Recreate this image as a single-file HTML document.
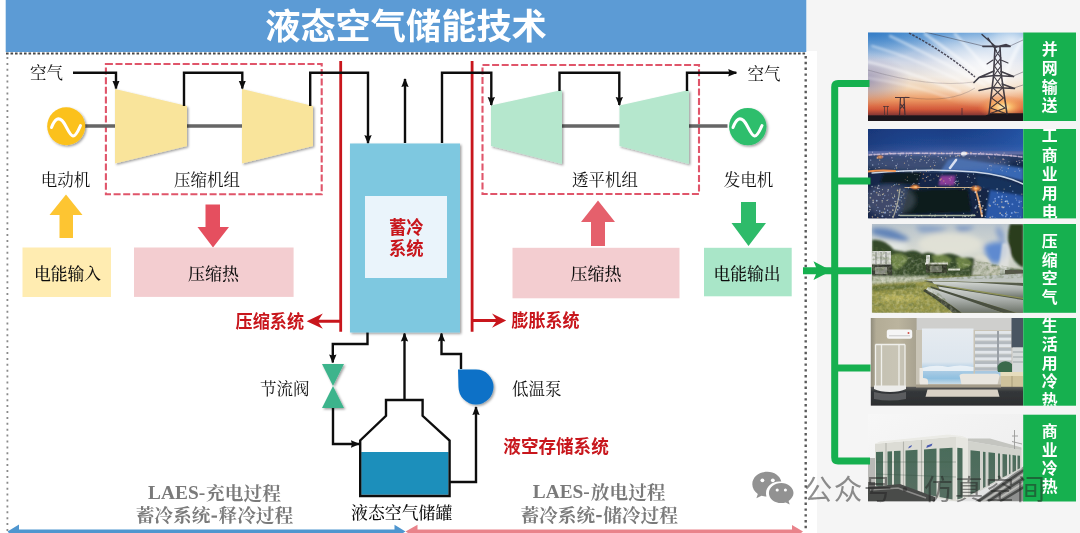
<!DOCTYPE html>
<html lang="zh">
<head>
<meta charset="utf-8">
<title>液态空气储能技术</title>
<style>
html,body{margin:0;padding:0;background:#fff;}
body{width:1080px;height:533px;overflow:hidden;position:relative;font-family:"Liberation Sans",sans-serif;}
#stage{position:absolute;left:0;top:0;width:1080px;height:533px;overflow:hidden;}
svg{position:absolute;left:0;top:0;display:block;}
.l{position:absolute;white-space:nowrap;color:transparent;line-height:1.2;font-family:"Liberation Sans",sans-serif;margin:0;padding:0;pointer-events:none;}
.l.s{font-family:"Liberation Serif",serif;}
</style>
</head>
<body>
<div id="stage">
<svg width="1080" height="533" viewBox="0 0 1080 533">
<defs>

<filter id="sh" x="-10%" y="-10%" width="125%" height="125%"><feDropShadow dx="1.4" dy="1.4" stdDeviation="1.2" flood-color="#000" flood-opacity="0.38"/></filter>
<filter id="b1"><feGaussianBlur stdDeviation="0.45"/></filter>
<filter id="b2"><feGaussianBlur stdDeviation="0.6"/></filter>
<marker id="ak" viewBox="0 0 10 10" refX="9" refY="5" markerWidth="9" markerHeight="9.4" markerUnits="userSpaceOnUse" orient="auto"><path d="M0 0.9 L10 5 L0 9.1 L1.2 5 Z" fill="#111"/></marker>


<filter id="pb1" x="-5%" y="-5%" width="110%" height="110%"><feGaussianBlur stdDeviation="1.2"/></filter>
<filter id="pb2" x="-5%" y="-5%" width="110%" height="110%"><feGaussianBlur stdDeviation="2.5"/></filter>
<filter id="pb3" x="-10%" y="-10%" width="120%" height="120%"><feGaussianBlur stdDeviation="5"/></filter>
<filter id="pb05" x="-5%" y="-5%" width="110%" height="110%"><feGaussianBlur stdDeviation="0.55"/></filter>
<filter id="nz" x="0" y="0" width="100%" height="100%"><feTurbulence type="fractalNoise" baseFrequency="0.28" numOctaves="2" seed="4" result="t"/><feColorMatrix in="t" type="matrix" values="0 0 0 0 0.1  0 0 0 0 0.15  0 0 0 0 0.05  1.2 1.2 1.2 0 -1.55"/><feComposite in2="SourceAlpha" operator="in"/></filter>
<filter id="nzw" x="0" y="0" width="100%" height="100%"><feTurbulence type="fractalNoise" baseFrequency="0.3" numOctaves="2" seed="9" result="t"/><feColorMatrix in="t" type="matrix" values="0 0 0 0 1  0 0 0 0 1  0 0 0 0 0.8  1.2 1.2 1.2 0 -1.6"/><feComposite in2="SourceAlpha" operator="in"/></filter>
<clipPath id="p1"><rect x="868" y="32.5" width="155.4" height="88.4"/></clipPath>
<clipPath id="p2"><rect x="868" y="129" width="155.2" height="89.4"/></clipPath>
<clipPath id="p3"><rect x="871.8" y="224" width="151.4" height="88.8"/></clipPath>
<clipPath id="p4"><rect x="870.6" y="318" width="152.6" height="87.7"/></clipPath>
<clipPath id="p5"><rect x="868" y="414" width="156" height="87.5"/></clipPath>
<linearGradient id="sky1" x1="0" y1="0" x2="0" y2="1">
<stop offset="0" stop-color="#5a98d4"/><stop offset="0.17" stop-color="#9cbce0"/><stop offset="0.34" stop-color="#d2d8e6"/>
<stop offset="0.5" stop-color="#ece4dc"/><stop offset="0.64" stop-color="#f2d2b0"/><stop offset="0.76" stop-color="#ec9862"/><stop offset="0.87" stop-color="#d2583a"/>
<stop offset="0.93" stop-color="#8c3a34"/><stop offset="0.955" stop-color="#241c22"/><stop offset="1" stop-color="#1c181c"/></linearGradient>
<radialGradient id="glow1" cx="0.5" cy="0.5" r="0.5"><stop offset="0" stop-color="#fff" stop-opacity="0.95"/><stop offset="0.5" stop-color="#fff" stop-opacity="0.55"/><stop offset="1" stop-color="#fff" stop-opacity="0"/></radialGradient>
<radialGradient id="sun1" cx="0.5" cy="0.5" r="0.5"><stop offset="0" stop-color="#fff6c0" stop-opacity="1"/><stop offset="0.35" stop-color="#ffc870" stop-opacity="0.8"/><stop offset="1" stop-color="#f08040" stop-opacity="0"/></radialGradient>
<radialGradient id="blue1" cx="0.5" cy="0.5" r="0.5"><stop offset="0" stop-color="#2f78c4" stop-opacity="0.95"/><stop offset="1" stop-color="#3c84c8" stop-opacity="0"/></radialGradient>
<radialGradient id="mauve1" cx="0.5" cy="0.5" r="0.5"><stop offset="0" stop-color="#8c88ac" stop-opacity="0.85"/><stop offset="1" stop-color="#9a90b0" stop-opacity="0"/></radialGradient>


<linearGradient id="sky2" x1="0" y1="0" x2="0" y2="1">
<stop offset="0" stop-color="#1b3d84"/><stop offset="0.16" stop-color="#21478f"/><stop offset="0.235" stop-color="#3a579c"/><stop offset="0.272" stop-color="#6470a8"/>
<stop offset="0.31" stop-color="#2a3c66"/><stop offset="0.4" stop-color="#15294c"/><stop offset="1" stop-color="#12233f"/></linearGradient>
<linearGradient id="sky2h" x1="0" y1="0" x2="1" y2="0"><stop offset="0" stop-color="#16306c" stop-opacity="0.5"/><stop offset="0.5" stop-color="#2050a0" stop-opacity="0"/><stop offset="1" stop-color="#2c64bc" stop-opacity="0.55"/></linearGradient>
<radialGradient id="og" cx="0.5" cy="0.5" r="0.5"><stop offset="0" stop-color="#ffd080" stop-opacity="1"/><stop offset="0.4" stop-color="#ff9040" stop-opacity="0.8"/><stop offset="1" stop-color="#ff8030" stop-opacity="0"/></radialGradient>


<linearGradient id="sky3" x1="0" y1="0" x2="0" y2="1">
<stop offset="0" stop-color="#b9c4cc"/><stop offset="0.3" stop-color="#d6d9d2"/><stop offset="0.55" stop-color="#c8ccc0"/><stop offset="1" stop-color="#9a9c70"/></linearGradient>
<linearGradient id="pipe3" x1="0" y1="0" x2="0" y2="1">
<stop offset="0" stop-color="#d4d8d4"/><stop offset="0.5" stop-color="#a9aeaa"/><stop offset="1" stop-color="#6c7268"/></linearGradient>


<linearGradient id="wall4" x1="0" y1="0" x2="1" y2="0"><stop offset="0" stop-color="#8e8a7a"/><stop offset="0.12" stop-color="#b3ac96"/><stop offset="0.6" stop-color="#bbb49e"/><stop offset="1" stop-color="#a8a290"/></linearGradient>
<linearGradient id="win4" x1="0" y1="0" x2="0" y2="1"><stop offset="0" stop-color="#e6ebf0"/><stop offset="0.6" stop-color="#dde6ee"/><stop offset="0.72" stop-color="#b4d0e6"/><stop offset="0.9" stop-color="#8fc0e0"/><stop offset="1" stop-color="#c8dce8"/></linearGradient>
<linearGradient id="floor4" x1="0" y1="0" x2="0" y2="1"><stop offset="0" stop-color="#5a5a58"/><stop offset="0.25" stop-color="#34373a"/><stop offset="1" stop-color="#2c2e30"/></linearGradient>
<pattern id="blind4" x="0" y="331" width="8" height="6.6" patternUnits="userSpaceOnUse"><rect width="8" height="3.3" fill="#e2e6ea"/><rect y="3.3" width="8" height="3.3" fill="#b4babf"/></pattern>


<linearGradient id="sky5" x1="0" y1="0" x2="1" y2="1"><stop offset="0" stop-color="#f7f7f7"/><stop offset="0.6" stop-color="#f0f0f0"/><stop offset="1" stop-color="#d9dada"/></linearGradient>
<linearGradient id="gr5" x1="0" y1="0" x2="0" y2="1"><stop offset="0" stop-color="#4a6c5a"/><stop offset="1" stop-color="#566e62"/></linearGradient>

<clipPath id="c2"><rect x="1023" y="129" width="53" height="89.4"/></clipPath><clipPath id="c4"><rect x="1023" y="318" width="53" height="87.7"/></clipPath>
<filter id="soft" filterUnits="userSpaceOnUse" x="-20" y="-20" width="1120" height="573"><feGaussianBlur stdDeviation="0.55"/></filter>
</defs>
<g filter="url(#soft)">
<rect x="-20" y="-20" width="1120" height="573" fill="#fff"/>
<rect x="806.5" y="-20" width="294" height="71" fill="#f5f5f5"/>
<rect x="817" y="-20" width="283" height="573" fill="#f5f5f5"/>
<rect x="5.7" y="-20" width="800.6" height="72" fill="#5b9bd5"/>
<path d="M6 53.6 H806.5" stroke="#4a4a4a" stroke-width="2" stroke-dasharray="2.6 1.9" fill="none"/>
<path d="M7.4 57 V531" stroke="#8a8a8a" stroke-width="1.8" stroke-dasharray="2 3.9" fill="none"/>
<path d="M805.7 56 V531" stroke="#5a5a5a" stroke-width="2.4" stroke-dasharray="2.4 3.4" fill="none"/>
<text x="265.2" y="38.98" font-family="'Liberation Sans','Noto Sans CJK SC',sans-serif" font-weight="bold" font-size="35.2" fill="#fff" textLength="281.6" lengthAdjust="spacingAndGlyphs">液态空气储能技术</text>
<rect x="105.9" y="64" width="215.8" height="130.3" fill="none" stroke="#e0546a" stroke-width="2.1" stroke-dasharray="7 2.6"/>
<rect x="482.5" y="65" width="216.5" height="129" fill="none" stroke="#e0546a" stroke-width="2.1" stroke-dasharray="7 2.6"/>
<path d="M340.7 61 V331.7 M472.1 61 V331.7" stroke="#c8161d" stroke-width="2.8" fill="none"/>
<path d="M340.5 321.2 H316 M472 320.6 H498" stroke="#c8161d" stroke-width="3" fill="none"/>
<path d="M306.7 321.2 L322.8 313.6 L317.8 321.2 L322.8 328.8 Z M506.2 320.6 L492 313.6 L497 320.6 L492 327.8 Z" fill="#c8161d"/>
<path d="M84 126 H116 M186 126 H243 M561 126 H620 M688 126 H727.5" stroke="#666" stroke-width="3.4" fill="none"/>
<g filter="url(#sh)">
<path d="M115 89 L187 106 L187 146 L115 163.5 Z" fill="#f9e49b"/>
<path d="M242 89 L313 106 L313 146 L242 163.5 Z" fill="#f9e49b"/>
<path d="M491 105.5 L562 90 L562 164 L491 146 Z" fill="#b5e7cd"/>
<path d="M619.5 105.5 L689 90 L689 164 L619.5 146 Z" fill="#b5e7cd"/>
</g>
<circle cx="66.2" cy="126.3" r="19" fill="#fbc11d" filter="url(#sh)"/>
<path d="M51.5 127.5 C55 118 58.5 117.5 62 120.5 C66 124 69 135.5 73 136 C76 136.3 78.5 130 80.5 125.5" stroke="#fff" stroke-width="3" fill="none" stroke-linecap="round" stroke-linejoin="round"/>
<circle cx="747.8" cy="126.6" r="18.7" fill="#2dbe6c" filter="url(#sh)"/>
<path d="M733 127.5 C736.5 118 740 117.5 743.5 120.5 C747.5 124 750.5 135.5 754.5 136 C757.5 136.3 760 130 762 125.5" stroke="#fff" stroke-width="3" fill="none" stroke-linecap="round" stroke-linejoin="round"/>
<path d="M73 72.8 H116 V88.6" stroke="#111" stroke-width="2.4" fill="none" stroke-linejoin="miter" marker-end="url(#ak)"/>
<path d="M184 106 V72.8 H242.3 V88.6" stroke="#111" stroke-width="2.4" fill="none" stroke-linejoin="miter" marker-end="url(#ak)"/>
<path d="M310.2 106 V72.8 H368 V143.2" stroke="#111" stroke-width="2.4" fill="none" stroke-linejoin="miter" marker-end="url(#ak)"/>
<path d="M405 143 V79" stroke="#111" stroke-width="2.4" fill="none" stroke-linejoin="miter" marker-end="url(#ak)"/>
<path d="M442 143 V72.8 H491.3 V105" stroke="#111" stroke-width="2.4" fill="none" stroke-linejoin="miter" marker-end="url(#ak)"/>
<path d="M559.5 91 V72.8 H619.3 V105" stroke="#111" stroke-width="2.4" fill="none" stroke-linejoin="miter" marker-end="url(#ak)"/>
<path d="M687 91 V72.8 H736.3" stroke="#111" stroke-width="2.4" fill="none" stroke-linejoin="miter" marker-end="url(#ak)"/>
<path d="M367.5 332 V344 H332.8 V362.5" stroke="#111" stroke-width="2.4" fill="none" stroke-linejoin="miter" marker-end="url(#ak)"/>
<path d="M404.5 400 V333.5" stroke="#111" stroke-width="2.4" fill="none" stroke-linejoin="miter" marker-end="url(#ak)"/>
<path d="M461 369 V354 H441.5 V333.5" stroke="#111" stroke-width="2.4" fill="none" stroke-linejoin="miter" marker-end="url(#ak)"/>
<path d="M333 408 V444 H359" stroke="#111" stroke-width="2.4" fill="none" stroke-linejoin="miter" marker-end="url(#ak)"/>
<path d="M450 482 H476 V407" stroke="#111" stroke-width="2.4" fill="none" stroke-linejoin="miter" marker-end="url(#ak)"/>
<rect x="350" y="143.5" width="110" height="189" fill="#7ec8e0" filter="url(#sh)"/>
<rect x="365" y="196" width="82" height="82" fill="#eaf4fb"/>
<text x="389.02" y="234.24" font-family="'Liberation Sans','Noto Sans CJK SC',sans-serif" font-weight="bold" font-size="18" fill="#c8161d" textLength="34.6" lengthAdjust="spacingAndGlyphs">蓄冷</text>
<text x="389.02" y="254.84" font-family="'Liberation Sans','Noto Sans CJK SC',sans-serif" font-weight="bold" font-size="18" fill="#c8161d" textLength="34.6" lengthAdjust="spacingAndGlyphs">系统</text>
<path d="M66 194.5 L82.5 215 L73 215 L73 238 L59.5 238 L59.5 215 L49.5 215 Z" fill="#fdc532"/>
<path d="M205.5 204.5 H220 V227 H229 L213 247.5 L197.5 227 H205.5 Z" fill="#e5505f"/>
<path d="M598 200.5 L615 222 L605 222 L605 246 L591 246 L591 222 L581 222 Z" fill="#e5606c"/>
<path d="M741 202 H756 V223 H766 L748.5 246 L731.5 223 H741 Z" fill="#2fbb6b"/>
<rect x="22.5" y="247.5" width="88.5" height="49.5" fill="#ffecb1"/>
<rect x="134" y="247.5" width="159.6" height="49.4" fill="#f3cdd0"/>
<rect x="512.5" y="247.8" width="167" height="50.5" fill="#f3cdd0"/>
<rect x="704" y="247.8" width="87.7" height="48.5" fill="#a9e6c8"/>
<path d="M322 364 H344 L333 386 L344 408 H322 L333 386 Z" fill="#3cb48c" filter="url(#sh)"/>
<path d="M458 369.5 H476 A17.5 17.5 0 1 1 458.5 387 Z" fill="#0b71c7" filter="url(#sh)"/>
<path d="M361.2 452 H448.6 V494.8 H361.2 Z" fill="#1f8fbb"/>
<path d="M386 400 H422.6 V415.8 L449.6 440.5 V496 H360.2 V440.5 L386 415.8 Z" fill="none" stroke="#111" stroke-width="2.4" stroke-linejoin="miter"/>
<path d="M14 531.3 H398" stroke="#4f96cf" stroke-width="3.6" fill="none"/>
<path d="M7.5 531.5 L19 524.5 V533 H9 Z M405.5 531.5 L394.5 524.8 V533 H403 Z" fill="#4f96cf"/>
<path d="M413 531.3 H796" stroke="#e9838b" stroke-width="3.6" fill="none"/>
<path d="M405.5 531.5 L417.5 524.8 V533 H408 Z M803 531.5 L792 525 V533 H801 Z" fill="#e9838b"/>
<g font-family="'Liberation Serif','Noto Serif CJK SC',serif" fill="#111">
<text x="30" y="78.77" font-size="16.5">空气</text>
<text x="747.5" y="80.27" font-size="16.5">空气</text>
<text x="40.75" y="186.27" font-size="16.5">电动机</text>
<text x="174" y="186.27" font-size="16.5">压缩机组</text>
<text x="572" y="186.27" font-size="16.5">透平机组</text>
<text x="723.75" y="186.27" font-size="16.5">发电机</text>
<text x="33.9" y="280.38" font-size="16.8" font-weight="500">电能输入</text>
<text x="188" y="280.46" font-size="17" font-weight="500">压缩热</text>
<text x="570.5" y="280.46" font-size="17" font-weight="500">压缩热</text>
<text x="713.4" y="280.38" font-size="16.8" font-weight="500">电能输出</text>
<text x="259.95" y="395.27" font-size="16.5">节流阀</text>
<text x="511.95" y="395.27" font-size="16.5">低温泵</text>
<text x="351" y="518.92" font-size="16.9" font-weight="500">液态空气储罐</text>
</g>
<text x="235.6" y="327.64" font-family="'Liberation Sans','Noto Sans CJK SC',sans-serif" font-weight="bold" font-size="18" fill="#c8161d" textLength="68.4" lengthAdjust="spacingAndGlyphs">压缩系统</text>
<text x="511.5" y="327.44" font-family="'Liberation Sans','Noto Sans CJK SC',sans-serif" font-weight="bold" font-size="18" fill="#c8161d" textLength="68" lengthAdjust="spacingAndGlyphs">膨胀系统</text>
<text x="503.3" y="453.07" font-family="'Liberation Sans','Noto Sans CJK SC',sans-serif" font-weight="bold" font-size="18.6" fill="#c8161d" textLength="105.5" lengthAdjust="spacingAndGlyphs">液空存储系统</text>
<text x="148.1" y="498.8" font-family="Liberation Serif, serif" font-weight="bold" font-size="19.6" fill="#7a7a7a" textLength="57" lengthAdjust="spacingAndGlyphs">LAES-</text>
<text x="206.1" y="499.61" font-family="'Liberation Serif','Noto Serif CJK SC',serif" font-weight="bold" font-size="18.7" fill="#7a7a7a">充电过程</text>
<text x="135.7" y="522.11" font-family="'Liberation Serif','Noto Serif CJK SC',serif" font-weight="bold" font-size="18.7" fill="#7a7a7a">蓄冷系统</text>
<rect x="211.5" y="515.5" width="5.5" height="2.2" fill="#7a7a7a"/>
<text x="218.5" y="522.11" font-family="'Liberation Serif','Noto Serif CJK SC',serif" font-weight="bold" font-size="18.7" fill="#7a7a7a">释冷过程</text>
<text x="532.8" y="498.3" font-family="Liberation Serif, serif" font-weight="bold" font-size="19.6" fill="#7a7a7a" textLength="57" lengthAdjust="spacingAndGlyphs">LAES-</text>
<text x="590.8" y="499.11" font-family="'Liberation Serif','Noto Serif CJK SC',serif" font-weight="bold" font-size="18.7" fill="#7a7a7a">放电过程</text>
<text x="520.4" y="521.61" font-family="'Liberation Serif','Noto Serif CJK SC',serif" font-weight="bold" font-size="18.7" fill="#7a7a7a">蓄冷系统</text>
<rect x="596.2" y="515" width="5.5" height="2.2" fill="#7a7a7a"/>
<text x="603.2" y="521.61" font-family="'Liberation Serif','Noto Serif CJK SC',serif" font-weight="bold" font-size="18.7" fill="#7a7a7a">储冷过程</text>
<g clip-path="url(#p1)"><g>
<rect x="868" y="32.5" width="155.4" height="88.4" fill="url(#sky1)"/>
<ellipse cx="872" cy="30" rx="62" ry="30" fill="url(#blue1)"/>
<ellipse cx="864" cy="80" rx="46" ry="26" fill="url(#mauve1)"/>
<ellipse cx="985" cy="66" rx="70" ry="42" fill="url(#glow1)" opacity="0.85"/>
<ellipse cx="1012" cy="40" rx="30" ry="22" fill="url(#glow1)" opacity="0.7"/>
<ellipse cx="1003" cy="107" rx="26" ry="12" fill="url(#sun1)"/>
<g filter="url(#pb1)" stroke="#fff" fill="none" stroke-linecap="round"><path d="M868 62 Q905 70 960 92" stroke-width="2.5" opacity="0.5"/><path d="M872 46 Q915 58 975 88" stroke-width="2" opacity="0.45"/><path d="M890 36 Q930 55 985 85" stroke-width="2.5" opacity="0.45"/><path d="M925 34 Q955 55 990 82" stroke-width="3" opacity="0.5"/><path d="M955 34 Q975 55 996 80" stroke-width="3" opacity="0.45"/><path d="M1022 40 Q1010 60 1002 84" stroke-width="4" opacity="0.5"/><path d="M868 78 Q910 84 950 98" stroke-width="2" opacity="0.35"/></g>
<path d="M868 115.6 H985 L992 113.3 H1023.4 V121 H868 Z" fill="#1d191d"/>
<g stroke="#3a3644" fill="none" filter="url(#pb05)"><path d="M909 33 Q945 52 975 77" stroke-width="1.5" stroke-dasharray="2.5 1.2" opacity="0.85"/><path d="M925 32 Q958 40 983 46" stroke-width="0.8" opacity="0.6"/><path d="M868 70 Q930 88 974 82" stroke-width="0.6" opacity="0.35"/><path d="M905 97 Q950 104 975 88" stroke-width="0.6" opacity="0.4"/><path d="M1010 46 L1023 40 M1013.5 76 L1023 72 M1014 88 L1023 85" stroke-width="0.7" opacity="0.6"/></g>
<g stroke="#2a2630" fill="none" stroke-linecap="round" filter="url(#pb05)" opacity="0.88"><path d="M982 34.5 L996 47 M988 38 L996.5 51" stroke-width="1.3"/><path d="M983 46.3 H1010 M996 47 L1006 44.6 L1010 46.3" stroke-width="1.7"/><path d="M995 47 L993.5 76 L989 114 M1000 47 L1001.5 76 L1007 114" stroke-width="1.6"/><path d="M995 50 L1001 58 L994.5 66 L1001.5 76 L993 88 L1003.5 98 L990.5 108 L1007 114 M1000 50 L994.7 58 L1001 66 L993.5 76 L1002.5 88 L991.5 98 L1005 108 L989 114" stroke-width="1.1"/><path d="M974 82.5 L979 77.5 L994 75.5 L1013.5 76.5 M979 77.5 L994 71 M1013.5 76.5 L1001 71.5" stroke-width="1.7"/><path d="M979 90.5 L993 87.5 L1014.5 88.5 M1014.5 88.5 L1002 84" stroke-width="1.5"/><path d="M993 60 L987 64 M1001 60 L1008 63" stroke-width="1.1"/></g>
<g stroke="#3a2c34" fill="none" filter="url(#pb05)" opacity="0.9"><path d="M895 97.5 H909.5 M900.5 97.5 L899.5 115.5 M904 97.5 L905 115.5 M900.5 104 L904.5 109 M904 104 L900 109" stroke-width="1.2"/><path d="M883 106.5 H889 M884.5 106 V115.5 M887.5 106 V115.5" stroke-width="0.9" opacity="0.8"/><path d="M962 108 V115.5" stroke-width="1" opacity="0.8"/></g>
</g></g>
<g clip-path="url(#p2)">
<rect x="868" y="129" width="155.2" height="89.4" fill="url(#sky2)"/>
<rect x="868" y="129" width="155.2" height="22" fill="url(#sky2h)"/>
<g filter="url(#pb1)"><path d="M948 160 L956 158 L1023.5 168 V181 Q990 172 962 171 Q950 170 940 172 Z" fill="#3868b4"/><path d="M976 176 Q1000 176 1023.5 186 V197 Q1000 190 978 188 Z" fill="#18305c"/><path d="M990 190 L1023.5 196 V219 H985 Z" fill="#2a58a8"/><path d="M870 160 L940 158 L935 168 L868 171 Z" fill="#1a2c48"/><path d="M884 173 L922 172 L918 184 L880 183 Z" fill="#0f1b22"/><path d="M908 190 L968 189 L971 212 L902 214 Z" fill="#0c1a1c"/><path d="M940.5 175.5 L955.5 175.5 L954.5 185.5 L938.5 185.5 Z" fill="#8a3c98"/><path d="M868 186 L900 186 L898 219 L868 219 Z" fill="#1c2c50"/></g>
<ellipse cx="935" cy="163" rx="75" ry="9" fill="#6478a8" opacity="0.45" filter="url(#pb2)"/>
<ellipse cx="890" cy="200" rx="26" ry="16" fill="#8088a0" opacity="0.35" filter="url(#pb2)"/>
<g filter="url(#pb05)" fill="none" stroke-linecap="round"><path d="M872 173 Q930 168 975 172 Q1005 175 1023 184" stroke="#dfe8f4" stroke-width="1.4" opacity="0.9"/><path d="M868 171.5 Q880 170 895 171" stroke="#ff9a50" stroke-width="2" opacity="0.9"/><path d="M956 160 L950 168" stroke="#e8ecf8" stroke-width="2.5" opacity="0.9"/><path d="M905 187.5 H972" stroke="#ffd9a0" stroke-width="1.2" opacity="0.75"/><path d="M975 188 Q979 200 982 216" stroke="#ffb070" stroke-width="2" opacity="0.85"/><path d="M900 189 Q898 205 893 218" stroke="#f0e8c0" stroke-width="1.2" opacity="0.6"/><path d="M900 215.5 H975" stroke="#e8f0c8" stroke-width="1.3" opacity="0.7"/><path d="M869 155 Q900 152.5 940 153.5 Q990 153 1022 157" stroke="#d8c8e0" stroke-width="1.6" stroke-dasharray="3 2.2 1.2 1.6" opacity="0.8"/></g>
<ellipse cx="915" cy="187" rx="6" ry="3.2" fill="url(#og)"/>
<ellipse cx="976" cy="188.5" rx="6.5" ry="4" fill="url(#og)"/>
<ellipse cx="880" cy="157" rx="4" ry="2.6" fill="url(#og)" opacity="0.8"/>
<ellipse cx="964" cy="153.5" rx="3" ry="2" fill="#fff" opacity="0.8" filter="url(#pb05)"/>
<g filter="url(#pb05)" opacity="0.7"><circle cx="918.2" cy="153.2" r="0.74" fill="#ffe8d0" opacity="0.92"/><circle cx="882.6" cy="156.7" r="0.86" fill="#ffd0e0" opacity="0.57"/><circle cx="935.2" cy="152.6" r="0.49" fill="#ffc890" opacity="0.58"/><circle cx="955.6" cy="159.6" r="0.73" fill="#ffe8d0" opacity="0.81"/><circle cx="929.5" cy="159.8" r="0.47" fill="#ffd0e0" opacity="0.68"/><circle cx="890.4" cy="152.9" r="0.59" fill="#ffd0e0" opacity="0.60"/><circle cx="956.5" cy="153.5" r="0.49" fill="#ffe8d0" opacity="0.80"/><circle cx="963.9" cy="156.0" r="0.69" fill="#fff" opacity="0.76"/><circle cx="1011.1" cy="154.9" r="0.56" fill="#ffd0e0" opacity="0.86"/><circle cx="905.8" cy="156.6" r="0.69" fill="#fff" opacity="0.88"/><circle cx="912.6" cy="159.8" r="0.50" fill="#ffc890" opacity="0.62"/><circle cx="921.0" cy="159.5" r="0.64" fill="#ffe8d0" opacity="0.89"/><circle cx="956.8" cy="159.0" r="0.59" fill="#fff" opacity="0.82"/><circle cx="957.9" cy="155.6" r="0.83" fill="#fff" opacity="0.76"/><circle cx="970.9" cy="152.5" r="0.77" fill="#ffc890" opacity="0.68"/><circle cx="927.8" cy="157.3" r="0.46" fill="#ffc890" opacity="0.71"/><circle cx="962.7" cy="155.9" r="0.55" fill="#fff" opacity="0.61"/><circle cx="906.4" cy="155.1" r="0.84" fill="#ffe8d0" opacity="0.62"/><circle cx="930.3" cy="154.2" r="0.51" fill="#ffc890" opacity="0.94"/><circle cx="911.2" cy="155.3" r="0.61" fill="#ffc890" opacity="0.98"/><circle cx="891.4" cy="153.4" r="0.55" fill="#ffd0e0" opacity="0.56"/><circle cx="996.8" cy="153.5" r="0.58" fill="#ffd0e0" opacity="0.74"/><circle cx="925.2" cy="156.5" r="0.88" fill="#ffe8d0" opacity="0.76"/><circle cx="1003.0" cy="159.6" r="0.76" fill="#ffc890" opacity="0.73"/><circle cx="929.1" cy="155.9" r="0.63" fill="#ffd0e0" opacity="0.58"/><circle cx="900.4" cy="153.3" r="0.60" fill="#ffe8d0" opacity="0.60"/><circle cx="955.9" cy="156.3" r="0.88" fill="#ffe8d0" opacity="0.58"/><circle cx="900.2" cy="155.0" r="0.74" fill="#fff" opacity="0.82"/><circle cx="941.5" cy="152.9" r="0.67" fill="#ffc890" opacity="0.77"/><circle cx="916.3" cy="153.2" r="0.79" fill="#fff" opacity="0.77"/><circle cx="975.3" cy="156.1" r="0.54" fill="#fff" opacity="0.62"/><circle cx="952.2" cy="152.2" r="0.69" fill="#ffe8d0" opacity="0.86"/><circle cx="908.5" cy="154.9" r="0.53" fill="#ffd0e0" opacity="0.79"/><circle cx="988.8" cy="154.6" r="0.55" fill="#ffd0e0" opacity="0.91"/><circle cx="994.8" cy="157.9" r="0.55" fill="#ffc890" opacity="0.71"/><circle cx="872.5" cy="152.2" r="0.58" fill="#fff" opacity="0.64"/><circle cx="961.8" cy="154.8" r="0.81" fill="#fff" opacity="0.98"/><circle cx="924.5" cy="153.8" r="0.55" fill="#ffd0e0" opacity="0.70"/><circle cx="942.8" cy="159.9" r="0.72" fill="#ffe8d0" opacity="0.77"/><circle cx="969.2" cy="158.4" r="0.49" fill="#ffe8d0" opacity="0.96"/><circle cx="989.3" cy="158.0" r="0.67" fill="#ffd0e0" opacity="0.75"/><circle cx="966.6" cy="152.7" r="0.88" fill="#ffc890" opacity="0.76"/><circle cx="983.2" cy="152.7" r="0.52" fill="#ffd0e0" opacity="0.56"/><circle cx="959.6" cy="155.7" r="0.75" fill="#ffc890" opacity="0.85"/><circle cx="922.3" cy="156.4" r="0.51" fill="#ffe8d0" opacity="0.91"/><circle cx="980.6" cy="152.8" r="0.79" fill="#ffd0e0" opacity="0.75"/><circle cx="1003.1" cy="158.6" r="0.54" fill="#fff" opacity="0.65"/><circle cx="945.7" cy="158.1" r="0.60" fill="#ffc890" opacity="0.93"/><circle cx="877.4" cy="157.9" r="0.85" fill="#ffc890" opacity="0.92"/><circle cx="1004.1" cy="153.0" r="0.52" fill="#ffe8d0" opacity="0.94"/><circle cx="988.4" cy="156.9" r="0.80" fill="#ffd0e0" opacity="0.63"/><circle cx="941.4" cy="157.8" r="0.70" fill="#fff" opacity="0.86"/><circle cx="950.3" cy="155.9" r="0.80" fill="#ffe8d0" opacity="0.66"/><circle cx="910.9" cy="158.2" r="0.68" fill="#ffe8d0" opacity="0.89"/><circle cx="1009.4" cy="155.5" r="0.73" fill="#ffd0e0" opacity="0.86"/><circle cx="938.1" cy="156.3" r="0.67" fill="#ffd0e0" opacity="0.86"/><circle cx="1003.9" cy="159.5" r="0.57" fill="#ffd0e0" opacity="0.93"/><circle cx="889.3" cy="153.0" r="0.65" fill="#ffe8d0" opacity="0.85"/><circle cx="934.4" cy="153.7" r="0.59" fill="#ffe8d0" opacity="0.95"/><circle cx="891.9" cy="157.7" r="0.75" fill="#ffd0e0" opacity="0.66"/><circle cx="873.1" cy="200.4" r="0.79" fill="#fff4c8" opacity="0.73"/><circle cx="886.0" cy="218.6" r="0.82" fill="#fff" opacity="0.87"/><circle cx="904.8" cy="198.1" r="0.64" fill="#ffe0a0" opacity="0.69"/><circle cx="894.7" cy="184.7" r="0.70" fill="#bcd4ff" opacity="0.87"/><circle cx="882.2" cy="202.1" r="0.58" fill="#fff4c8" opacity="0.60"/><circle cx="902.0" cy="192.0" r="0.84" fill="#fff4c8" opacity="0.67"/><circle cx="869.5" cy="211.3" r="0.57" fill="#fff" opacity="0.92"/><circle cx="899.4" cy="207.7" r="0.88" fill="#bcd4ff" opacity="0.62"/><circle cx="902.0" cy="204.0" r="0.77" fill="#fff4c8" opacity="0.68"/><circle cx="897.6" cy="190.4" r="0.85" fill="#ffe0a0" opacity="0.97"/><circle cx="891.5" cy="212.1" r="0.49" fill="#fff" opacity="0.58"/><circle cx="899.9" cy="199.9" r="0.60" fill="#bcd4ff" opacity="0.97"/><circle cx="877.9" cy="188.5" r="0.69" fill="#fff" opacity="0.97"/><circle cx="903.9" cy="193.2" r="0.53" fill="#ffe0a0" opacity="0.83"/><circle cx="887.7" cy="191.2" r="0.65" fill="#fff" opacity="0.67"/><circle cx="897.7" cy="218.8" r="0.47" fill="#fff4c8" opacity="0.88"/><circle cx="888.4" cy="190.6" r="0.66" fill="#bcd4ff" opacity="0.60"/><circle cx="898.3" cy="199.1" r="0.67" fill="#bcd4ff" opacity="0.99"/><circle cx="879.4" cy="191.5" r="0.55" fill="#fff" opacity="0.92"/><circle cx="894.1" cy="206.3" r="0.63" fill="#ffe0a0" opacity="0.99"/><circle cx="899.0" cy="184.5" r="0.73" fill="#ffe0a0" opacity="0.74"/><circle cx="870.0" cy="207.3" r="0.62" fill="#ffe0a0" opacity="0.82"/><circle cx="893.6" cy="185.6" r="0.53" fill="#ffe0a0" opacity="0.75"/><circle cx="877.7" cy="217.7" r="0.89" fill="#ffe0a0" opacity="0.66"/><circle cx="903.7" cy="194.8" r="0.61" fill="#fff4c8" opacity="0.70"/><circle cx="871.1" cy="193.8" r="0.75" fill="#fff" opacity="0.78"/><circle cx="868.2" cy="193.2" r="0.49" fill="#bcd4ff" opacity="0.81"/><circle cx="882.6" cy="194.5" r="0.73" fill="#fff4c8" opacity="0.81"/><circle cx="887.6" cy="210.3" r="0.75" fill="#bcd4ff" opacity="0.89"/><circle cx="894.7" cy="201.3" r="0.58" fill="#fff" opacity="0.57"/><circle cx="898.9" cy="215.2" r="0.73" fill="#fff" opacity="0.96"/><circle cx="895.9" cy="203.9" r="0.82" fill="#fff4c8" opacity="0.92"/><circle cx="889.6" cy="215.2" r="0.76" fill="#fff" opacity="0.59"/><circle cx="869.5" cy="206.3" r="0.88" fill="#bcd4ff" opacity="0.93"/><circle cx="888.7" cy="206.0" r="0.73" fill="#fff" opacity="0.77"/><circle cx="868.1" cy="211.9" r="0.79" fill="#fff4c8" opacity="0.85"/><circle cx="870.4" cy="209.8" r="0.56" fill="#fff4c8" opacity="0.93"/><circle cx="876.7" cy="210.5" r="0.55" fill="#bcd4ff" opacity="0.77"/><circle cx="882.2" cy="200.8" r="0.76" fill="#fff4c8" opacity="0.83"/><circle cx="891.8" cy="186.7" r="0.52" fill="#ffe0a0" opacity="0.84"/><circle cx="893.6" cy="205.7" r="0.51" fill="#bcd4ff" opacity="0.58"/><circle cx="877.9" cy="207.5" r="0.76" fill="#bcd4ff" opacity="0.68"/><circle cx="887.1" cy="200.3" r="0.66" fill="#fff4c8" opacity="1.00"/><circle cx="888.3" cy="194.9" r="0.49" fill="#bcd4ff" opacity="0.56"/><circle cx="885.0" cy="212.7" r="0.89" fill="#bcd4ff" opacity="1.00"/><circle cx="882.3" cy="216.1" r="0.87" fill="#fff4c8" opacity="0.81"/><circle cx="873.2" cy="202.3" r="0.88" fill="#fff" opacity="0.82"/><circle cx="891.4" cy="193.8" r="0.50" fill="#ffe0a0" opacity="0.65"/><circle cx="901.2" cy="201.0" r="0.46" fill="#fff4c8" opacity="0.98"/><circle cx="893.2" cy="198.2" r="0.78" fill="#bcd4ff" opacity="0.70"/><circle cx="879.7" cy="213.4" r="0.45" fill="#ffe0a0" opacity="0.93"/><circle cx="872.4" cy="216.4" r="0.77" fill="#ffe0a0" opacity="0.66"/><circle cx="870.4" cy="197.7" r="0.84" fill="#fff4c8" opacity="0.71"/><circle cx="883.8" cy="193.6" r="0.47" fill="#fff4c8" opacity="0.57"/><circle cx="892.5" cy="206.2" r="0.52" fill="#ffe0a0" opacity="0.75"/><circle cx="879.7" cy="211.1" r="0.80" fill="#bcd4ff" opacity="0.95"/><circle cx="898.0" cy="206.1" r="0.86" fill="#fff" opacity="0.87"/><circle cx="869.8" cy="209.6" r="0.65" fill="#fff" opacity="0.84"/><circle cx="878.6" cy="185.7" r="0.87" fill="#fff" opacity="0.63"/><circle cx="883.4" cy="193.9" r="0.57" fill="#ffe0a0" opacity="0.73"/><circle cx="876.8" cy="200.9" r="0.75" fill="#fff4c8" opacity="0.63"/><circle cx="874.0" cy="191.3" r="0.86" fill="#bcd4ff" opacity="0.80"/><circle cx="884.8" cy="195.6" r="0.79" fill="#bcd4ff" opacity="0.61"/><circle cx="875.1" cy="187.2" r="0.60" fill="#fff4c8" opacity="0.69"/><circle cx="881.6" cy="212.3" r="0.54" fill="#fff4c8" opacity="0.89"/><circle cx="883.3" cy="198.5" r="0.69" fill="#bcd4ff" opacity="0.67"/><circle cx="895.8" cy="201.4" r="0.71" fill="#ffe0a0" opacity="0.61"/><circle cx="886.6" cy="206.0" r="0.84" fill="#fff" opacity="0.59"/><circle cx="901.2" cy="197.5" r="0.74" fill="#bcd4ff" opacity="0.98"/><circle cx="899.4" cy="214.6" r="0.46" fill="#fff4c8" opacity="0.74"/><circle cx="896.3" cy="212.1" r="0.89" fill="#bcd4ff" opacity="0.55"/><circle cx="882.5" cy="216.4" r="0.82" fill="#bcd4ff" opacity="0.99"/><circle cx="877.2" cy="187.8" r="0.52" fill="#fff4c8" opacity="0.97"/><circle cx="894.7" cy="206.7" r="0.79" fill="#bcd4ff" opacity="0.59"/><circle cx="896.7" cy="184.0" r="0.51" fill="#fff4c8" opacity="0.84"/><circle cx="879.2" cy="188.5" r="0.56" fill="#bcd4ff" opacity="0.86"/><circle cx="872.1" cy="186.5" r="0.69" fill="#fff" opacity="0.72"/><circle cx="876.3" cy="205.0" r="0.45" fill="#ffe0a0" opacity="1.00"/><circle cx="878.3" cy="195.1" r="0.83" fill="#fff" opacity="0.76"/><circle cx="876.7" cy="192.6" r="0.88" fill="#ffe0a0" opacity="0.57"/><circle cx="875.2" cy="215.0" r="0.74" fill="#fff4c8" opacity="0.67"/><circle cx="892.7" cy="216.4" r="0.55" fill="#fff4c8" opacity="0.86"/><circle cx="894.6" cy="196.7" r="0.63" fill="#fff4c8" opacity="0.91"/><circle cx="895.3" cy="201.7" r="0.54" fill="#fff" opacity="0.69"/><circle cx="898.3" cy="192.1" r="0.55" fill="#ffe0a0" opacity="0.60"/><circle cx="891.1" cy="205.4" r="0.85" fill="#bcd4ff" opacity="0.74"/><circle cx="892.6" cy="217.2" r="0.52" fill="#bcd4ff" opacity="0.57"/><circle cx="868.9" cy="204.9" r="0.64" fill="#fff4c8" opacity="0.63"/><circle cx="884.6" cy="208.9" r="0.59" fill="#fff4c8" opacity="1.00"/><circle cx="902.5" cy="195.5" r="0.53" fill="#bcd4ff" opacity="0.56"/><circle cx="892.6" cy="197.3" r="0.62" fill="#ffe0a0" opacity="0.75"/><circle cx="872.0" cy="186.7" r="0.49" fill="#bcd4ff" opacity="0.98"/><circle cx="872.6" cy="217.7" r="0.54" fill="#ffe0a0" opacity="0.90"/><circle cx="879.4" cy="212.1" r="0.49" fill="#bcd4ff" opacity="0.64"/><circle cx="888.0" cy="199.6" r="0.60" fill="#bcd4ff" opacity="0.56"/><circle cx="883.2" cy="212.4" r="0.80" fill="#fff4c8" opacity="0.72"/><circle cx="885.2" cy="212.1" r="0.48" fill="#fff" opacity="0.89"/><circle cx="901.2" cy="195.9" r="0.57" fill="#fff4c8" opacity="0.67"/><circle cx="894.5" cy="195.1" r="0.57" fill="#fff4c8" opacity="0.87"/><circle cx="890.0" cy="212.2" r="0.88" fill="#fff4c8" opacity="0.56"/><circle cx="876.7" cy="200.6" r="0.88" fill="#bcd4ff" opacity="0.91"/><circle cx="901.8" cy="212.5" r="0.51" fill="#bcd4ff" opacity="0.63"/><circle cx="897.7" cy="209.8" r="0.82" fill="#fff" opacity="0.82"/><circle cx="880.1" cy="195.2" r="0.61" fill="#fff4c8" opacity="0.78"/><circle cx="882.5" cy="189.6" r="0.63" fill="#fff4c8" opacity="0.77"/><circle cx="888.2" cy="189.6" r="0.64" fill="#fff4c8" opacity="0.99"/><circle cx="877.8" cy="186.9" r="0.49" fill="#bcd4ff" opacity="0.99"/><circle cx="904.0" cy="190.1" r="0.51" fill="#bcd4ff" opacity="0.83"/><circle cx="892.9" cy="210.2" r="0.83" fill="#fff4c8" opacity="0.90"/><circle cx="878.9" cy="193.8" r="0.57" fill="#ffe0a0" opacity="0.88"/><circle cx="882.3" cy="163.5" r="0.51" fill="#cfe0ff" opacity="0.68"/><circle cx="933.3" cy="162.6" r="0.47" fill="#fff" opacity="1.00"/><circle cx="904.5" cy="163.2" r="0.65" fill="#ffd8a0" opacity="0.76"/><circle cx="870.7" cy="160.1" r="0.67" fill="#cfe0ff" opacity="0.93"/><circle cx="933.8" cy="160.6" r="0.52" fill="#cfe0ff" opacity="0.57"/><circle cx="911.2" cy="171.6" r="0.50" fill="#cfe0ff" opacity="0.72"/><circle cx="930.4" cy="166.3" r="0.51" fill="#ffd8a0" opacity="0.98"/><circle cx="875.6" cy="168.3" r="0.60" fill="#cfe0ff" opacity="0.57"/><circle cx="892.5" cy="160.6" r="0.70" fill="#cfe0ff" opacity="0.82"/><circle cx="914.9" cy="162.8" r="0.45" fill="#fff" opacity="0.73"/><circle cx="894.8" cy="168.7" r="0.47" fill="#cfe0ff" opacity="0.91"/><circle cx="907.5" cy="160.9" r="0.48" fill="#fff" opacity="0.85"/><circle cx="879.1" cy="167.5" r="0.61" fill="#fff" opacity="0.86"/><circle cx="897.5" cy="164.0" r="0.53" fill="#cfe0ff" opacity="0.69"/><circle cx="908.8" cy="165.0" r="0.55" fill="#fff" opacity="0.84"/><circle cx="896.1" cy="165.7" r="0.69" fill="#fff" opacity="0.96"/><circle cx="898.5" cy="171.5" r="0.55" fill="#fff" opacity="0.76"/><circle cx="879.7" cy="160.2" r="0.59" fill="#ffd8a0" opacity="0.91"/><circle cx="896.6" cy="168.0" r="0.68" fill="#ffd8a0" opacity="0.78"/><circle cx="878.5" cy="164.0" r="0.58" fill="#cfe0ff" opacity="0.60"/><circle cx="903.3" cy="171.3" r="0.69" fill="#cfe0ff" opacity="0.69"/><circle cx="928.3" cy="160.6" r="0.68" fill="#fff" opacity="0.57"/><circle cx="934.7" cy="165.4" r="0.68" fill="#ffd8a0" opacity="0.86"/><circle cx="932.2" cy="169.0" r="0.66" fill="#ffd8a0" opacity="0.73"/><circle cx="928.9" cy="171.6" r="0.50" fill="#cfe0ff" opacity="0.57"/><circle cx="935.6" cy="162.2" r="0.54" fill="#cfe0ff" opacity="0.66"/><circle cx="920.2" cy="172.6" r="0.46" fill="#ffd8a0" opacity="0.93"/><circle cx="916.4" cy="169.4" r="0.53" fill="#fff" opacity="0.82"/><circle cx="907.6" cy="168.8" r="0.53" fill="#fff" opacity="0.69"/><circle cx="885.9" cy="165.4" r="0.54" fill="#ffd8a0" opacity="0.75"/><circle cx="869.7" cy="168.7" r="0.57" fill="#cfe0ff" opacity="0.75"/><circle cx="912.5" cy="171.5" r="0.66" fill="#fff" opacity="0.73"/><circle cx="872.8" cy="165.0" r="0.54" fill="#fff" opacity="0.78"/><circle cx="915.3" cy="160.6" r="0.48" fill="#ffd8a0" opacity="0.69"/><circle cx="919.9" cy="161.1" r="0.64" fill="#fff" opacity="0.84"/><circle cx="924.5" cy="160.4" r="0.47" fill="#ffd8a0" opacity="0.88"/><circle cx="926.7" cy="162.7" r="0.70" fill="#fff" opacity="0.68"/><circle cx="926.4" cy="171.1" r="0.62" fill="#ffd8a0" opacity="0.97"/><circle cx="872.7" cy="164.9" r="0.64" fill="#cfe0ff" opacity="0.70"/><circle cx="912.2" cy="172.7" r="0.56" fill="#fff" opacity="0.78"/><circle cx="969.4" cy="177.3" r="0.54" fill="#ffe8c0" opacity="0.69"/><circle cx="907.6" cy="176.9" r="0.51" fill="#ffb070" opacity="0.86"/><circle cx="967.7" cy="176.7" r="0.72" fill="#fff" opacity="0.90"/><circle cx="908.4" cy="187.7" r="0.79" fill="#d0e0ff" opacity="0.80"/><circle cx="945.6" cy="188.1" r="0.49" fill="#d0e0ff" opacity="0.88"/><circle cx="931.0" cy="180.0" r="0.58" fill="#ffe8c0" opacity="0.71"/><circle cx="958.5" cy="181.1" r="0.51" fill="#fff" opacity="0.68"/><circle cx="941.1" cy="179.0" r="0.79" fill="#ffb070" opacity="0.88"/><circle cx="957.3" cy="177.5" r="0.55" fill="#d0e0ff" opacity="0.74"/><circle cx="930.5" cy="174.8" r="0.62" fill="#fff" opacity="0.56"/><circle cx="905.2" cy="179.7" r="0.49" fill="#ffb070" opacity="0.79"/><circle cx="933.9" cy="178.8" r="0.50" fill="#ffb070" opacity="0.83"/><circle cx="938.2" cy="176.2" r="0.78" fill="#ffe8c0" opacity="0.87"/><circle cx="936.6" cy="175.0" r="0.50" fill="#ffb070" opacity="0.73"/><circle cx="923.5" cy="174.2" r="0.68" fill="#ffb070" opacity="0.82"/><circle cx="945.5" cy="183.6" r="0.63" fill="#d0e0ff" opacity="0.66"/><circle cx="968.2" cy="174.7" r="0.64" fill="#d0e0ff" opacity="0.63"/><circle cx="916.1" cy="188.6" r="0.49" fill="#ffe8c0" opacity="0.61"/><circle cx="919.0" cy="183.7" r="0.63" fill="#d0e0ff" opacity="0.92"/><circle cx="917.2" cy="179.0" r="0.56" fill="#fff" opacity="1.00"/><circle cx="955.7" cy="181.6" r="0.64" fill="#d0e0ff" opacity="0.93"/><circle cx="957.2" cy="181.4" r="0.71" fill="#d0e0ff" opacity="0.63"/><circle cx="974.8" cy="178.2" r="0.68" fill="#fff" opacity="0.70"/><circle cx="957.5" cy="185.1" r="0.75" fill="#fff" opacity="0.67"/><circle cx="943.8" cy="181.0" r="0.73" fill="#ffb070" opacity="0.68"/><circle cx="970.0" cy="188.3" r="0.48" fill="#fff" opacity="0.63"/><circle cx="968.3" cy="187.5" r="0.52" fill="#ffe8c0" opacity="0.89"/><circle cx="927.9" cy="188.1" r="0.56" fill="#ffe8c0" opacity="0.72"/><circle cx="964.6" cy="188.7" r="0.79" fill="#d0e0ff" opacity="0.76"/><circle cx="942.1" cy="174.1" r="0.46" fill="#ffe8c0" opacity="0.81"/><circle cx="926.5" cy="177.4" r="0.67" fill="#fff" opacity="0.80"/><circle cx="917.0" cy="174.5" r="0.49" fill="#ffe8c0" opacity="0.71"/><circle cx="914.9" cy="174.5" r="0.46" fill="#fff" opacity="0.86"/><circle cx="956.6" cy="175.1" r="0.66" fill="#ffb070" opacity="0.64"/><circle cx="971.8" cy="182.5" r="0.68" fill="#d0e0ff" opacity="0.60"/><circle cx="919.4" cy="175.8" r="0.46" fill="#fff" opacity="0.92"/><circle cx="949.2" cy="178.6" r="0.48" fill="#fff" opacity="0.91"/><circle cx="950.2" cy="178.7" r="0.57" fill="#ffb070" opacity="0.56"/><circle cx="923.0" cy="178.5" r="0.70" fill="#ffb070" opacity="0.96"/><circle cx="958.8" cy="183.6" r="0.62" fill="#ffb070" opacity="0.83"/><circle cx="907.2" cy="180.6" r="0.60" fill="#fff" opacity="0.71"/><circle cx="954.3" cy="182.6" r="0.53" fill="#fff" opacity="0.81"/><circle cx="925.1" cy="181.0" r="0.63" fill="#ffb070" opacity="0.89"/><circle cx="973.5" cy="174.1" r="0.62" fill="#d0e0ff" opacity="0.86"/><circle cx="962.8" cy="189.5" r="0.66" fill="#ffb070" opacity="0.81"/><circle cx="916.1" cy="187.0" r="0.78" fill="#ffe8c0" opacity="0.77"/><circle cx="912.7" cy="184.2" r="0.48" fill="#fff" opacity="0.83"/><circle cx="929.9" cy="180.4" r="0.59" fill="#fff" opacity="0.74"/><circle cx="950.2" cy="180.0" r="0.56" fill="#d0e0ff" opacity="0.96"/><circle cx="940.1" cy="180.1" r="0.76" fill="#ffe8c0" opacity="0.97"/><circle cx="913.9" cy="183.5" r="0.69" fill="#fff" opacity="0.71"/><circle cx="927.9" cy="176.5" r="0.75" fill="#ffb070" opacity="0.63"/><circle cx="935.7" cy="186.4" r="0.65" fill="#ffe8c0" opacity="0.70"/><circle cx="950.0" cy="185.1" r="0.63" fill="#ffb070" opacity="0.69"/><circle cx="954.2" cy="187.5" r="0.50" fill="#ffe8c0" opacity="0.99"/><circle cx="955.6" cy="183.6" r="0.57" fill="#ffe8c0" opacity="0.70"/><circle cx="918.2" cy="189.6" r="0.71" fill="#fff" opacity="0.62"/><circle cx="951.1" cy="177.1" r="0.50" fill="#ffe8c0" opacity="0.91"/><circle cx="956.3" cy="181.0" r="0.52" fill="#fff" opacity="0.68"/><circle cx="967.0" cy="181.4" r="0.45" fill="#d0e0ff" opacity="0.86"/><circle cx="999.0" cy="206.9" r="0.70" fill="#fff" opacity="0.67"/><circle cx="1010.4" cy="186.2" r="0.58" fill="#ffe0b0" opacity="0.87"/><circle cx="1003.2" cy="207.4" r="0.92" fill="#fff" opacity="0.86"/><circle cx="1005.8" cy="201.0" r="0.62" fill="#e8f0ff" opacity="0.95"/><circle cx="986.6" cy="199.2" r="0.84" fill="#fff" opacity="0.66"/><circle cx="995.3" cy="201.0" r="0.79" fill="#ffe0b0" opacity="0.78"/><circle cx="1006.7" cy="214.8" r="0.94" fill="#9cc0ff" opacity="0.90"/><circle cx="993.7" cy="202.2" r="0.99" fill="#e8f0ff" opacity="0.66"/><circle cx="985.5" cy="209.6" r="0.97" fill="#fff" opacity="0.78"/><circle cx="979.9" cy="205.0" r="0.75" fill="#ffe0b0" opacity="0.78"/><circle cx="1005.7" cy="213.4" r="0.74" fill="#ffe0b0" opacity="0.88"/><circle cx="996.9" cy="218.7" r="0.55" fill="#e8f0ff" opacity="0.88"/><circle cx="1004.5" cy="207.0" r="0.59" fill="#ffe0b0" opacity="0.73"/><circle cx="975.6" cy="199.8" r="0.68" fill="#9cc0ff" opacity="0.81"/><circle cx="980.2" cy="196.0" r="0.67" fill="#fff" opacity="1.00"/><circle cx="1021.1" cy="201.2" r="0.54" fill="#e8f0ff" opacity="0.91"/><circle cx="1005.4" cy="201.5" r="0.76" fill="#fff" opacity="0.92"/><circle cx="982.0" cy="208.0" r="0.91" fill="#ffe0b0" opacity="0.76"/><circle cx="989.1" cy="204.1" r="0.52" fill="#ffe0b0" opacity="0.71"/><circle cx="1015.8" cy="194.8" r="0.66" fill="#9cc0ff" opacity="0.99"/><circle cx="1007.6" cy="201.9" r="0.89" fill="#9cc0ff" opacity="0.71"/><circle cx="1006.4" cy="196.6" r="0.72" fill="#e8f0ff" opacity="0.85"/><circle cx="992.4" cy="216.6" r="0.92" fill="#e8f0ff" opacity="0.59"/><circle cx="1002.1" cy="196.7" r="0.97" fill="#9cc0ff" opacity="0.83"/><circle cx="975.7" cy="186.4" r="0.97" fill="#9cc0ff" opacity="0.66"/><circle cx="979.9" cy="190.7" r="0.58" fill="#ffe0b0" opacity="0.71"/><circle cx="982.3" cy="215.8" r="0.89" fill="#fff" opacity="0.82"/><circle cx="1008.0" cy="218.2" r="0.50" fill="#9cc0ff" opacity="0.64"/><circle cx="1008.3" cy="203.5" r="0.86" fill="#ffe0b0" opacity="0.85"/><circle cx="980.6" cy="189.9" r="0.68" fill="#fff" opacity="0.76"/><circle cx="1001.7" cy="202.0" r="0.95" fill="#ffe0b0" opacity="0.66"/><circle cx="982.9" cy="205.8" r="0.85" fill="#fff" opacity="0.93"/><circle cx="997.5" cy="204.6" r="0.82" fill="#ffe0b0" opacity="0.72"/><circle cx="995.1" cy="217.7" r="0.49" fill="#9cc0ff" opacity="0.84"/><circle cx="976.4" cy="206.1" r="0.83" fill="#9cc0ff" opacity="0.91"/><circle cx="979.5" cy="202.0" r="0.87" fill="#fff" opacity="0.57"/><circle cx="1009.5" cy="206.6" r="0.64" fill="#9cc0ff" opacity="0.70"/><circle cx="1012.4" cy="204.3" r="0.95" fill="#9cc0ff" opacity="0.75"/><circle cx="995.3" cy="204.3" r="0.90" fill="#9cc0ff" opacity="0.71"/><circle cx="998.7" cy="197.0" r="0.99" fill="#9cc0ff" opacity="0.99"/><circle cx="1006.4" cy="212.1" r="0.63" fill="#9cc0ff" opacity="0.87"/><circle cx="981.1" cy="218.1" r="0.50" fill="#e8f0ff" opacity="0.73"/><circle cx="1001.6" cy="199.4" r="0.77" fill="#ffe0b0" opacity="0.69"/><circle cx="975.3" cy="192.3" r="0.96" fill="#e8f0ff" opacity="0.91"/><circle cx="1018.7" cy="206.2" r="0.79" fill="#e8f0ff" opacity="0.65"/><circle cx="1007.0" cy="201.1" r="0.87" fill="#e8f0ff" opacity="0.85"/><circle cx="1016.7" cy="199.9" r="0.51" fill="#e8f0ff" opacity="0.72"/><circle cx="1014.5" cy="212.0" r="0.76" fill="#9cc0ff" opacity="0.94"/><circle cx="983.9" cy="187.1" r="0.46" fill="#e8f0ff" opacity="0.77"/><circle cx="1000.1" cy="213.2" r="0.88" fill="#ffe0b0" opacity="0.81"/><circle cx="1019.1" cy="200.7" r="0.46" fill="#ffe0b0" opacity="0.82"/><circle cx="1022.7" cy="207.8" r="0.54" fill="#ffe0b0" opacity="0.80"/><circle cx="979.0" cy="201.6" r="0.94" fill="#e8f0ff" opacity="0.74"/><circle cx="975.4" cy="208.1" r="0.99" fill="#e8f0ff" opacity="0.65"/><circle cx="980.8" cy="201.6" r="0.60" fill="#fff" opacity="0.75"/><circle cx="1010.7" cy="216.5" r="0.65" fill="#fff" opacity="0.88"/><circle cx="979.0" cy="206.7" r="0.84" fill="#ffe0b0" opacity="0.85"/><circle cx="1017.7" cy="216.1" r="0.48" fill="#e8f0ff" opacity="0.56"/><circle cx="975.7" cy="207.5" r="0.90" fill="#e8f0ff" opacity="0.73"/><circle cx="990.0" cy="205.8" r="0.98" fill="#ffe0b0" opacity="0.82"/><circle cx="990.2" cy="217.3" r="0.85" fill="#ffe0b0" opacity="0.85"/><circle cx="982.0" cy="212.3" r="0.65" fill="#fff" opacity="0.83"/><circle cx="995.1" cy="198.7" r="0.88" fill="#9cc0ff" opacity="0.90"/><circle cx="1002.2" cy="195.6" r="0.48" fill="#9cc0ff" opacity="0.94"/><circle cx="1009.8" cy="186.5" r="0.53" fill="#9cc0ff" opacity="0.81"/><circle cx="1021.9" cy="194.1" r="0.66" fill="#ffe0b0" opacity="0.82"/><circle cx="1018.0" cy="212.6" r="0.61" fill="#e8f0ff" opacity="0.69"/><circle cx="987.9" cy="191.2" r="0.96" fill="#e8f0ff" opacity="0.68"/><circle cx="981.8" cy="215.4" r="1.00" fill="#fff" opacity="0.67"/><circle cx="1015.9" cy="212.6" r="0.83" fill="#ffe0b0" opacity="0.71"/><circle cx="979.1" cy="204.3" r="0.89" fill="#fff" opacity="0.90"/><circle cx="1009.7" cy="218.4" r="0.62" fill="#e8f0ff" opacity="0.85"/><circle cx="997.3" cy="192.8" r="0.59" fill="#e8f0ff" opacity="0.91"/><circle cx="997.1" cy="188.9" r="0.89" fill="#e8f0ff" opacity="0.65"/><circle cx="1002.8" cy="215.6" r="0.94" fill="#9cc0ff" opacity="0.76"/><circle cx="1003.3" cy="192.2" r="0.56" fill="#fff" opacity="0.91"/><circle cx="988.9" cy="205.1" r="0.65" fill="#fff" opacity="0.66"/><circle cx="1019.3" cy="202.3" r="0.93" fill="#9cc0ff" opacity="0.83"/><circle cx="1012.8" cy="191.2" r="0.78" fill="#9cc0ff" opacity="0.68"/><circle cx="1004.1" cy="189.1" r="0.56" fill="#ffe0b0" opacity="0.81"/><circle cx="985.3" cy="216.5" r="0.60" fill="#e8f0ff" opacity="0.98"/><circle cx="1011.8" cy="213.0" r="0.98" fill="#9cc0ff" opacity="0.93"/><circle cx="991.3" cy="218.8" r="0.66" fill="#e8f0ff" opacity="0.57"/><circle cx="1001.8" cy="214.7" r="0.70" fill="#e8f0ff" opacity="0.94"/><circle cx="1005.7" cy="216.4" r="0.84" fill="#e8f0ff" opacity="0.67"/><circle cx="1002.1" cy="207.1" r="0.98" fill="#ffe0b0" opacity="0.63"/><circle cx="1015.8" cy="198.2" r="0.58" fill="#fff" opacity="0.63"/><circle cx="1020.2" cy="217.1" r="0.48" fill="#e8f0ff" opacity="0.93"/><circle cx="977.3" cy="212.0" r="0.84" fill="#ffe0b0" opacity="0.58"/><circle cx="982.0" cy="210.9" r="0.97" fill="#9cc0ff" opacity="0.82"/><circle cx="1001.8" cy="167.8" r="0.57" fill="#ffd8c0" opacity="0.67"/><circle cx="989.7" cy="165.8" r="0.49" fill="#fff" opacity="0.91"/><circle cx="1019.7" cy="170.7" r="0.57" fill="#fff" opacity="0.91"/><circle cx="991.0" cy="170.0" r="0.47" fill="#ffd8c0" opacity="0.95"/><circle cx="990.3" cy="165.4" r="0.47" fill="#ffd8c0" opacity="0.93"/><circle cx="1008.9" cy="165.4" r="0.53" fill="#fff" opacity="0.76"/><circle cx="1008.9" cy="161.7" r="0.51" fill="#fff" opacity="0.63"/><circle cx="1002.2" cy="170.7" r="0.56" fill="#fff" opacity="0.67"/><circle cx="1000.6" cy="161.9" r="0.52" fill="#ffd8c0" opacity="0.70"/><circle cx="991.4" cy="165.9" r="0.53" fill="#ffd8c0" opacity="0.60"/><circle cx="1022.2" cy="160.7" r="0.67" fill="#fff" opacity="0.80"/><circle cx="1016.7" cy="161.4" r="0.64" fill="#ffd8c0" opacity="0.74"/><circle cx="994.9" cy="162.9" r="0.51" fill="#ffd8c0" opacity="0.68"/><circle cx="1019.1" cy="160.7" r="0.63" fill="#ffd8c0" opacity="0.61"/><circle cx="1009.3" cy="165.3" r="0.58" fill="#fff" opacity="0.75"/><circle cx="1015.0" cy="171.3" r="0.52" fill="#ffd8c0" opacity="0.75"/><circle cx="1019.7" cy="162.6" r="0.59" fill="#fff" opacity="0.93"/><circle cx="1004.8" cy="162.8" r="0.49" fill="#fff" opacity="0.92"/><circle cx="1018.8" cy="168.8" r="0.64" fill="#fff" opacity="0.64"/><circle cx="1008.3" cy="168.5" r="0.65" fill="#ffd8c0" opacity="0.64"/><circle cx="987.5" cy="168.8" r="0.55" fill="#fff" opacity="0.78"/><circle cx="998.2" cy="163.4" r="0.61" fill="#ffd8c0" opacity="0.59"/><circle cx="1000.6" cy="169.2" r="0.48" fill="#ffd8c0" opacity="0.66"/><circle cx="1006.4" cy="171.8" r="0.46" fill="#ffd8c0" opacity="0.81"/><circle cx="1017.6" cy="164.3" r="0.68" fill="#fff" opacity="0.60"/><circle cx="953.6" cy="217.9" r="0.75" fill="#fff" opacity="0.90"/><circle cx="965.1" cy="216.5" r="0.76" fill="#fff" opacity="0.94"/><circle cx="971.6" cy="216.0" r="0.63" fill="#f4ffd0" opacity="0.56"/><circle cx="972.6" cy="214.3" r="0.51" fill="#f4ffd0" opacity="0.69"/><circle cx="941.7" cy="218.7" r="0.46" fill="#f4ffd0" opacity="0.67"/><circle cx="962.8" cy="216.8" r="0.61" fill="#f4ffd0" opacity="0.87"/><circle cx="907.7" cy="218.2" r="0.70" fill="#f4ffd0" opacity="0.67"/><circle cx="934.9" cy="216.5" r="0.72" fill="#f4ffd0" opacity="0.60"/><circle cx="930.4" cy="213.8" r="0.66" fill="#f4ffd0" opacity="0.62"/><circle cx="943.0" cy="217.5" r="0.51" fill="#f4ffd0" opacity="0.97"/><circle cx="929.2" cy="215.5" r="0.74" fill="#f4ffd0" opacity="0.73"/><circle cx="970.6" cy="217.7" r="0.57" fill="#f4ffd0" opacity="0.93"/><circle cx="953.7" cy="218.1" r="0.65" fill="#fff" opacity="0.92"/><circle cx="963.6" cy="213.3" r="0.63" fill="#fff" opacity="0.66"/><circle cx="931.7" cy="216.8" r="0.58" fill="#f4ffd0" opacity="0.58"/><circle cx="932.5" cy="216.0" r="0.46" fill="#f4ffd0" opacity="0.74"/><circle cx="929.8" cy="219.0" r="0.61" fill="#f4ffd0" opacity="0.91"/><circle cx="966.3" cy="218.3" r="0.46" fill="#fff" opacity="0.96"/><circle cx="946.8" cy="216.8" r="0.73" fill="#f4ffd0" opacity="0.83"/><circle cx="918.8" cy="216.1" r="0.60" fill="#f4ffd0" opacity="0.68"/><circle cx="922.9" cy="216.9" r="0.49" fill="#fff" opacity="0.59"/><circle cx="944.3" cy="218.6" r="0.60" fill="#f4ffd0" opacity="0.95"/><circle cx="968.7" cy="216.5" r="0.55" fill="#f4ffd0" opacity="0.88"/><circle cx="921.5" cy="215.7" r="0.69" fill="#f4ffd0" opacity="0.84"/><circle cx="915.1" cy="217.3" r="0.61" fill="#fff" opacity="0.83"/><circle cx="935.2" cy="214.9" r="0.53" fill="#f4ffd0" opacity="0.63"/><circle cx="940.9" cy="218.8" r="0.59" fill="#fff" opacity="0.62"/><circle cx="971.4" cy="214.9" r="0.56" fill="#fff" opacity="0.68"/><circle cx="974.1" cy="214.8" r="0.72" fill="#f4ffd0" opacity="0.80"/><circle cx="945.4" cy="215.1" r="0.68" fill="#fff" opacity="0.93"/></g>
</g>
<g clip-path="url(#p3)">
<rect x="871.8" y="224" width="151.4" height="88.8" fill="url(#sky3)"/>
<g filter="url(#pb2)"><path d="M872 228 Q890 226 905 236 Q915 242 900 241 Q885 238 872 234 Z" fill="#5f82b8"/><path d="M915 226 Q935 224 948 229 Q935 234 920 232 Z" fill="#7c98c4" opacity="0.8"/><path d="M955 226 H975 Q968 233 958 231 Z" fill="#6c8cc0" opacity="0.8"/><path d="M984 246 Q998 238 1008 246 Q1008 260 996 264 Q986 262 984 246 Z" fill="#5f8ad0"/><path d="M998 226 Q1006 232 1004 244 Q996 238 996 228 Z" fill="#7090c8" opacity="0.8"/><ellipse cx="950" cy="244" rx="32" ry="11" fill="#e2e2d6" opacity="0.9"/><ellipse cx="892" cy="246" rx="16" ry="4" fill="#e8ece8" opacity="0.8"/></g>
<g filter="url(#pb1)"><path d="M872 240 Q884 238 894 250 L905 252 Q915 248 922 254 Q930 250 938 256 Q950 250 962 258 Q972 256 984 262 L1000 268 L1023.5 270 V282 H872 Z" fill="#35482b"/><path d="M890 256 Q900 250 908 258 Q904 268 894 270 Z M932 256 Q944 252 952 260 Q946 268 936 266 Z M956 258 Q968 256 972 264 Q964 270 958 268 Z" fill="#7c9450" opacity="0.85"/><path d="M1010 224 H1023.5 V268 Q1012 262 1010 250 Q1006 238 1010 224 Z" fill="#2a3c1e"/><path d="M975 256 Q984 252 990 262 L996 276 H972 Z" fill="#dcdcd0" opacity="0.85"/><path d="M1002 244 Q1008 240 1010 250 L1008 274 H998 Z" fill="#e4e4e0" opacity="0.8"/></g>
<g filter="url(#pb05)"><rect x="872" y="251" width="19" height="14" fill="#d9dad8"/><path d="M876 252 V264 M881 252 V264 M886 252 V264" stroke="#7c807c" stroke-width="1"/><rect x="872" y="264.5" width="20" height="11" fill="#33352f"/><rect x="875" y="267" width="12" height="7" fill="#8a8c84"/><rect x="926" y="255" width="4" height="9" fill="#e0e2e0"/><rect x="925" y="262.5" width="23" height="2.2" fill="#dcdcd4"/><rect x="926" y="264.5" width="21" height="8.5" fill="#2f3028"/><rect x="930" y="266" width="12" height="6" fill="#6c7064"/><rect x="948" y="268.5" width="12" height="2" fill="#e4e4dc"/><rect x="990" y="266" width="10" height="9" fill="#c8c8b8"/><rect x="1005" y="270" width="18" height="6" fill="#54544c"/></g>
<g filter="url(#pb1)"><path d="M872 276 H1023.5 V313 H872 Z" fill="#8c9054"/><path d="M872 276 L930 276 L922 281 L872 284 Z" fill="#c4c8b4"/><path d="M872 284 L925 281 L960 313 H872 Z" fill="#9a984a"/><path d="M872 286 L915 284 L918 288 L872 291 Z" fill="#56642c" opacity="0.8"/><path d="M880 296 Q900 292 925 298 Q905 304 884 302 Z" fill="#c4bc62" opacity="0.7"/></g>
<g filter="url(#pb05)"><path d="M922 279 L1023.5 273.5 V283 L930 281 Z" fill="#bfc4c0"/><path d="M924 281 L1023.5 283 V291 L940 285 Z" fill="#565c4c"/><path d="M932 281.5 Q980 282 1023.5 286 V298 Q975 290 934 284 Z" fill="url(#pipe3)"/><path d="M936 285 Q980 293 1023.5 299 V304 Q975 297 940 289 Z" fill="#4c5244"/><path d="M938 286.5 Q980 293 1023.5 300 V313 H1017 Q975 300 940 290 Z" fill="url(#pipe3)"/><path d="M930 286 Q975 300 1017 313 H1003 Q965 300 932 289.5 Z" fill="#4a5040"/><path d="M928 287 Q965 299 1003 313 H962 Q940 297 926 290 Z" fill="url(#pipe3)"/><path d="M925 289 Q940 297 962 313 H953 Q938 300 923 291 Z" fill="#3c4234"/></g>
<path d="M872 246 L900 252 L985 262 L1023.5 270 V278 L925 280 L960 313 H872 Z" filter="url(#nz)" opacity="0.5"/>
<path d="M872 252 L900 256 L970 264 V276 L925 280 L958 313 H872 Z" filter="url(#nzw)" opacity="0.28"/>
</g>
<g clip-path="url(#p4)">
<rect x="870.6" y="318" width="152.6" height="87.7" fill="#cfcfcd"/>
<rect x="870.6" y="318" width="46" height="70" fill="url(#wall4)"/>
<rect x="916" y="330" width="96" height="58" fill="#c9c4b6"/>
<g filter="url(#pb05)">
<rect x="922" y="328.5" width="51.5" height="55.5" fill="url(#win4)"/>
<path d="M922 368 Q935 364 948 367 Q960 364 973.5 367 V371 H922 Z" fill="#f0f4f8" opacity="0.85"/>
<rect x="975" y="331" width="36.5" height="40" fill="url(#blind4)"/>
<rect x="997" y="331" width="2" height="40" fill="#9aa0a6"/>
<rect x="975" y="371" width="36.5" height="5" fill="#a8c8e0"/>
<rect x="1011.5" y="318" width="12" height="29.5" fill="#4a5462"/>
<rect x="1013" y="347.5" width="10.5" height="25" fill="#d6dada"/>
<path d="M1013 352 H1023.5 M1013 357 H1023.5 M1013 362 H1023.5" stroke="#b0b6b8" stroke-width="1.4"/>
<path d="M998 372 Q996 364 1002 362 Q1008 360 1012 364 V372 Z" fill="#3b6a4c"/>
<path d="M959.5 375.5 Q960 373.5 964 373.8 H996 Q999.8 373.8 999.5 376 L997.5 384.5 H961.5 Z" fill="#e9e6df"/>
<rect x="1000.5" y="372" width="23" height="4" fill="#e6dcbc"/>
<path d="M1001 376 H1023.5 V394 H1012 L1001 388 Z" fill="#cfc29c"/>
<path d="M1012 376 V394" stroke="#a89c78" stroke-width="1"/>
<path d="M919.5 368 H923 V378 Q928 378 928 381 V386 H921 Q919 384 919.5 378 Z" fill="#ebe9e4"/>
<rect x="870.6" y="386.8" width="153" height="19" fill="url(#floor4)"/>
<path d="M916 384.5 H1001 V387.5 H916 Z" fill="#a49c8a"/>
<path d="M927.5 389.5 H997.5 L999.5 396.8 H925.5 Z" fill="#d9d1c5"/>
<rect x="886.8" y="329.5" width="25.4" height="9.2" rx="2.2" fill="#f5f5f5"/>
<path d="M889 335.8 H910" stroke="#c8c8c8" stroke-width="1"/>
<circle cx="908.5" cy="333" r="1" fill="#d05048"/>
<rect x="875" y="344.5" width="30" height="42" fill="#d9dad2" opacity="0.45"/>
<path d="M875.5 344.5 H905 M875.5 344.5 V388 M905 344.5 V388 M881.5 345 V387 M899 345 V387" stroke="#f0f0ec" stroke-width="1.3" fill="none"/>
<path d="M874 385.5 H906 V389 Q900 392 890 392 Q880 392 874 389 Z" fill="#ececea"/>
<path d="M874 392 Q890 396 906 392 V399 Q890 402 874 399 Z" fill="#77787a" opacity="0.6"/>
</g>
</g>
<g clip-path="url(#p5)">
<rect x="868" y="414" width="156" height="87.5" fill="url(#sky5)"/>
<g filter="url(#pb05)">
<rect x="868" y="458" width="10" height="26" fill="#b9b9b6"/>
<path d="M868 482 H930 V501.5 H868 Z" fill="#6a6a68"/>
<path d="M975 501.5 L1024 466 V501.5 Z" fill="#8e8f8e"/>
<path d="M968.0 441.0 L1021.5 450.0 L1021.5 469.0 L968.0 497.5 Z" fill="#d2d3cd"/>
<path d="M970.5 450.3 L980.0 451.3 L980.0 489.6 L970.5 494.7 Z" fill="url(#gr5)"/>
<path d="M983.0 451.7 L985.5 452.0 L985.5 486.7 L983.0 488.0 Z" fill="url(#gr5)"/>
<path d="M988.5 452.3 L995.0 453.0 L995.0 481.6 L988.5 485.1 Z" fill="url(#gr5)"/>
<path d="M998.0 453.4 L1000.0 453.6 L1000.0 479.0 L998.0 480.0 Z" fill="url(#gr5)"/>
<path d="M1002.5 453.9 L1007.0 454.4 L1007.0 475.2 L1002.5 477.6 Z" fill="url(#gr5)"/>
<path d="M1009.0 454.6 L1010.5 454.8 L1010.5 473.4 L1009.0 474.2 Z" fill="url(#gr5)"/>
<path d="M1012.5 455.0 L1016.0 455.4 L1016.0 470.4 L1012.5 472.3 Z" fill="url(#gr5)"/>
<path d="M1017.5 455.6 L1020.0 455.8 L1020.0 468.3 L1017.5 469.6 Z" fill="url(#gr5)"/>
<path d="M968 441 L1021.5 450 L1021.5 447.5 L990 438.5 L968 438.5 Z" fill="#c4c5c0"/>
<path d="M875.0 443.7 L956.0 436.5 L956.0 501.5 L875.0 487.0 Z" fill="#dcdcd5"/>
<path d="M876.0 452.1 L883.0 451.7 L883.0 486.9 L876.0 485.7 Z" fill="url(#gr5)"/>
<path d="M887.5 451.5 L892.0 451.2 L892.0 488.5 L887.5 487.7 Z" fill="url(#gr5)"/>
<path d="M894.0 451.1 L900.5 450.7 L900.5 490.1 L894.0 488.9 Z" fill="url(#gr5)"/>
<path d="M905.5 450.4 L917.5 449.7 L917.5 493.1 L905.5 491.0 Z" fill="url(#gr5)"/>
<path d="M924.0 449.4 L936.5 448.6 L936.5 496.5 L924.0 494.3 Z" fill="url(#gr5)"/>
<path d="M939.5 448.5 L952.5 447.7 L952.5 499.4 L939.5 497.0 Z" fill="url(#gr5)"/>
<path d="M886 443 V488.5 M903.5 441.5 V492 M921.5 440 V495 " stroke="#b4b5ae" stroke-width="1.1"/>
<path d="M956.0 436.5 L968.0 438.5 L968.0 498.0 L956.0 501.5 Z" fill="#e6e6e0"/>
<path d="M957.3 447.7 L962.5 448.3 L962.5 498.1 L957.3 499.6 Z" fill="url(#gr5)"/>
<path d="M875 443.7 L956 436.5 L968 438.5 L962 436 L948 434.6 L880 441.5 Z" fill="#ebebe6"/>
<path d="M909 446.5 l3 -1.6 l-0.8 2.2 l-3 1.4 Z M927 445.5 l5.5 -2 l-1 2.6 l-5.2 1.8 Z" fill="#4a5ab0"/>
<path d="M876 462 L956 462 M876 474 L956 477" stroke="#2f4c3e" stroke-width="0.6" opacity="0.5"/>
<path d="M868 487 L900 484 L935 497 L935 501.5 H868 Z" fill="#4a4b4a"/>
<path d="M870 490 L898 488 L926 498" stroke="#8c8c8a" stroke-width="1.6" fill="none"/>
<path d="M978 501.5 L1024 470 M988 501.5 L1024 478 M1000 501.5 L1024 487" stroke="#4c4d4c" stroke-width="2.6" fill="none"/>
<path d="M983 501.5 L1024 474 M994 501.5 L1024 482.5" stroke="#bcbcb8" stroke-width="1.6" fill="none"/>
<path d="M1014.5 430 V449 M1012 436 H1018 M1012 441.5 L1022 444" stroke="#9a9a98" stroke-width="0.9" fill="none"/>
</g>
</g>
<path d="M869.5 83.5 H838 Q834.7 83.5 834.7 87 V457.5 Q834.7 461 838 461 H870" stroke="#17b050" stroke-width="7" fill="none"/>
<path d="M834.7 181 H870.5 M803 270.8 H871.5 M834.7 368 H870.5" stroke="#17b050" stroke-width="7" fill="none"/>
<path d="M831.5 270.8 L813.5 261.3 L817.5 270.8 L813.5 280 Z" fill="#17b050"/>
<rect x="1023.2" y="32.5" width="52.8" height="88.5" fill="#17b050"/>
<rect x="1023.2" y="129" width="52.8" height="89.4" fill="#17b050"/>
<rect x="1023.2" y="224" width="52.8" height="88.8" fill="#17b050"/>
<rect x="1023.2" y="318" width="52.8" height="87.7" fill="#17b050"/>
<rect x="1023.2" y="414.7" width="52.8" height="86.8" fill="#17b050"/>
<g font-family="'Liberation Sans','Noto Sans CJK SC',sans-serif" font-weight="bold" font-size="15.9" fill="#fff">
<text><tspan x="1041.85" y="55.44">并</tspan><tspan x="1041.85" y="74.04">网</tspan><tspan x="1041.85" y="92.64">输</tspan><tspan x="1041.85" y="111.34">送</tspan></text>
<text clip-path="url(#c2)"><tspan x="1041.85" y="141.44">工</tspan><tspan x="1041.85" y="160.84">商</tspan><tspan x="1041.85" y="180.24">业</tspan><tspan x="1041.85" y="199.34">用</tspan><tspan x="1041.85" y="218.34">电</tspan></text>
<text><tspan x="1041.85" y="246.94">压</tspan><tspan x="1041.85" y="265.54">缩</tspan><tspan x="1041.85" y="284.14">空</tspan><tspan x="1041.85" y="302.74">气</tspan></text>
<text clip-path="url(#c4)"><tspan x="1041.85" y="330.64">生</tspan><tspan x="1041.85" y="349.64">活</tspan><tspan x="1041.85" y="368.54">用</tspan><tspan x="1041.85" y="387.34">冷</tspan><tspan x="1041.85" y="406.24">热</tspan></text>
<text><tspan x="1041.85" y="436.84">商</tspan><tspan x="1041.85" y="455.54">业</tspan><tspan x="1041.85" y="473.74">冷</tspan><tspan x="1041.85" y="492.34">热</tspan></text>
</g>
<g fill="#8d8d8d" opacity="0.95"><path d="M767.5 471.8 C758.5 471.8 752.3 477.5 752.3 484.3 C752.3 488.3 754.5 491.6 757.8 493.9 L756.4 498.3 L761.5 495.7 C763.3 496.2 764.6 496.5 766.5 496.6 C766.1 495.4 766 494.3 766 493.2 C766 486.7 771.8 481.5 779.2 481.5 C779.9 481.5 780.6 481.5 781.3 481.6 C780 475.9 774.2 471.8 767.5 471.8 Z"/><path d="M793.5 493 C793.5 487.4 787.9 482.9 781.3 482.9 C774.4 482.9 768.9 487.4 768.9 493 C768.9 498.6 774.4 503.1 781.3 503.1 C782.8 503.1 784.2 502.8 785.7 502.4 L789.7 504.6 L788.6 500.9 C791.5 498.8 793.5 496 793.5 493 Z"/></g>
<g fill="#fff"><circle cx="762.4" cy="480.3" r="1.9"/><circle cx="772.8" cy="480.3" r="1.9"/><circle cx="777.2" cy="490" r="1.55"/><circle cx="785.4" cy="490" r="1.55"/></g>
<text x="803.8" y="500.47" font-family="'Liberation Sans','Noto Sans CJK SC',sans-serif" font-size="28.6" fill="#222" opacity="0.5" textLength="88.6">公众号</text>
<circle cx="905" cy="489.5" r="2.2" fill="#222" opacity="0.5"/>
<text x="924" y="500.47" font-family="'Liberation Sans','Noto Sans CJK SC',sans-serif" font-size="28.6" fill="#222" opacity="0.5" textLength="121">仿真空间</text>
</g>
</svg>
<div class="l" style="left:265.2px;top:4.48px;font-size:35.2px;">液态空气储能技术</div>
<div class="l" style="left:389.02px;top:216.6px;font-size:18px;">蓄冷</div>
<div class="l" style="left:389.02px;top:237.2px;font-size:18px;">系统</div>
<div class="l s" style="left:30px;top:62.6px;font-size:16.5px;">空气</div>
<div class="l s" style="left:747.5px;top:64.1px;font-size:16.5px;">空气</div>
<div class="l s" style="left:40.75px;top:170.1px;font-size:16.5px;">电动机</div>
<div class="l s" style="left:174px;top:170.1px;font-size:16.5px;">压缩机组</div>
<div class="l s" style="left:572px;top:170.1px;font-size:16.5px;">透平机组</div>
<div class="l s" style="left:723.75px;top:170.1px;font-size:16.5px;">发电机</div>
<div class="l s" style="left:33.9px;top:263.92px;font-size:16.8px;">电能输入</div>
<div class="l s" style="left:188px;top:263.8px;font-size:17px;">压缩热</div>
<div class="l s" style="left:570.5px;top:263.8px;font-size:17px;">压缩热</div>
<div class="l s" style="left:713.4px;top:263.92px;font-size:16.8px;">电能输出</div>
<div class="l s" style="left:259.95px;top:379.1px;font-size:16.5px;">节流阀</div>
<div class="l s" style="left:511.95px;top:379.1px;font-size:16.5px;">低温泵</div>
<div class="l s" style="left:351px;top:502.36px;font-size:16.9px;">液态空气储罐</div>
<div class="l" style="left:235.6px;top:310px;font-size:18px;">压缩系统</div>
<div class="l" style="left:511.5px;top:309.8px;font-size:18px;">膨胀系统</div>
<div class="l" style="left:503.3px;top:434.84px;font-size:18.6px;">液空存储系统</div>
<div class="l s" style="left:206.1px;top:481.28px;font-size:18.7px;">充电过程</div>
<div class="l s" style="left:135.7px;top:503.78px;font-size:18.7px;">蓄冷系统-释冷过程</div>
<div class="l s" style="left:590.8px;top:480.78px;font-size:18.7px;">放电过程</div>
<div class="l s" style="left:520.4px;top:503.28px;font-size:18.7px;">蓄冷系统-储冷过程</div>
<div class="l" style="left:1041.5px;top:39.9px;font-size:16.3px;width:16.3px;line-height:18.63px;">并<br>网<br>输<br>送</div>
<div class="l" style="left:1041.5px;top:125.9px;font-size:16.3px;width:16.3px;line-height:19.23px;">工<br>商<br>业<br>用<br>电</div>
<div class="l" style="left:1041.5px;top:231.4px;font-size:16.3px;width:16.3px;line-height:18.6px;">压<br>缩<br>空<br>气</div>
<div class="l" style="left:1041.5px;top:315.1px;font-size:16.3px;width:16.3px;line-height:18.9px;">生<br>活<br>用<br>冷<br>热</div>
<div class="l" style="left:1041.5px;top:421.3px;font-size:16.3px;width:16.3px;line-height:18.5px;">商<br>业<br>冷<br>热</div>
<div class="l" style="left:804.5px;top:473px;font-size:28px;">公众号 · 仿真空间</div>
</div>
</body>
</html>
